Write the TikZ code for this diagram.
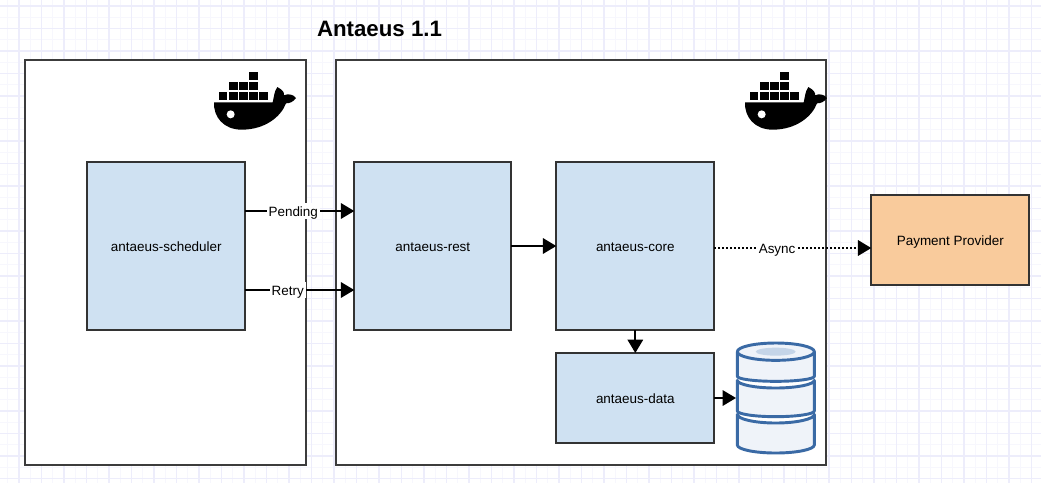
\documentclass[tikz,border=0pt]{standalone}
\usepackage{fontspec}
\setmainfont{Liberation Sans}
\usetikzlibrary{arrows.meta}
\definecolor{boxblue}{HTML}{CFE1F2}
\definecolor{boxorange}{HTML}{F9CB9C}
\definecolor{edgegrey}{HTML}{333333}
\definecolor{contgrey}{HTML}{3C3C3C}
\definecolor{gridmajor}{HTML}{EDEDFB}
\definecolor{gridminor}{HTML}{F7F7FD}
\definecolor{dbline}{HTML}{3A6AA5}
\definecolor{dbfill}{HTML}{EFF3F9}
\definecolor{dbinner}{HTML}{C5D5E8}
\tikzset{
  x=0.75pt,y=-0.75pt,
  container/.style={draw=contgrey,line width=1.7pt,fill=white,inner sep=0pt,outer sep=0pt},
  service/.style={draw=edgegrey,line width=1.3pt,fill=boxblue,inner sep=0pt,outer sep=0pt,text height=8.5pt,text depth=0pt,font=\fontsize{10.1pt}{12pt}\selectfont},
  external/.style={service,fill=boxorange},
  flow/.style={-{Triangle[length=10pt,width=11.5pt]},line width=1.5pt,black},
  asyncflow/.style={flow,line width=1.7pt,dash pattern=on 1.5pt off 1.5pt},
  flowlabel/.style={fill=white,inner sep=1.5pt,text height=8.5pt,text depth=1pt,font=\fontsize{10.1pt}{12pt}\selectfont,text=black},
  dbpart/.style={draw=dbline,line width=2.2pt,fill=dbfill,line join=round},
  dockerlogo/.pic={
    \fill[black] (148,35) rectangle (174,61);
    \foreach \a in {87,117,148} {\fill[black] (\a,65) rectangle +(26,26);}
    \foreach \a in {56,87,117,148,178} {\fill[black] (\a,95) rectangle +(26,26);}
    \fill[black] (42,127) -- (218,127) .. controls (222,112) and (222,95) .. (232,81)
      .. controls (248,90) and (254,98) .. (252,106)
      .. controls (264,100) and (280,103) .. (288,114)
      .. controls (280,126) and (268,130) .. (258,130)
      .. controls (243,170) and (195,209) .. (125,209)
      .. controls (70,209) and (40,170) .. (42,127) -- cycle;
    \fill[white] (92,163) circle (12);
  }
}
\begin{document}
\begin{tikzpicture}
\useasboundingbox (0,0) rectangle (1041,483);
\fill[white] (0,0) rectangle (1041,483);
\foreach \i in {0,...,93} {\draw[gridminor,line width=0.6pt] ({7.75+11.25*\i},0) -- ++(0,483);}
\foreach \i in {0,...,43} {\draw[gridminor,line width=0.6pt] (0,{6+11.25*\i}) -- ++(1041,0);}
\foreach \i in {0,...,46} {\draw[gridmajor,line width=0.8pt] ({19+22.5*\i},0) -- ++(0,483);}
\foreach \i in {0,...,21} {\draw[gridmajor,line width=0.8pt] (0,{6+22.5*\i}) -- ++(1041,0);}

\node[font=\bfseries\fontsize{16.7pt}{20pt}\selectfont,inner sep=0pt] (title) at (379.5,29) {Antaeus 1.1};

\node[container,minimum width=210.75pt,minimum height=303.75pt] (left) at (165.5,262.5) {};
\node[container,minimum width=367.5pt,minimum height=303.75pt] (right) at (581,262.5) {};

\pic at (200,60) [scale=1/3] {dockerlogo};
\pic at (731,60) [scale=1/3] {dockerlogo};

\node[service,minimum width=118.5pt,minimum height=126pt] (sched) at (166.3,246) {antaeus-scheduler};
\node[service,minimum width=117.75pt,minimum height=126pt] (rest) at (432.8,246) {antaeus-rest};
\node[service,minimum width=118.5pt,minimum height=126pt] (core) at (635.3,246) {antaeus-core};
\node[service,minimum width=118.5pt,minimum height=67.5pt] (data) at (635.3,398) {antaeus-data};
\node[external,minimum width=118.5pt,minimum height=67.5pt] (pay) at (950.3,240) {Payment Provider};

\coordinate (pendy) at (300,211);
\coordinate (retryy) at (300,290);
\coordinate (asyncy) at (800,248);
\coordinate (dbleft) at (736,398);

\draw[flow] (sched.east |- pendy) -- node[flowlabel,pos=0.44] {Pending} (rest.west |- pendy);
\draw[flow] (sched.east |- retryy) -- node[flowlabel,pos=0.39] {Retry} (rest.west |- retryy);
\draw[flow] (rest.east) -- (core.west);
\draw[flow] (core.south) -- (data.north);
\draw[flow] (data.east) -- (dbleft);
\draw[asyncflow] (core.east |- asyncy) -- node[flowlabel,pos=0.4] {Async} (pay.west |- asyncy);

% database icon
\begin{scope}[shift={(720,335)},scale=1/3]
\path[dbpart] (52,238) -- (52,330) .. controls (52,343) and (103,354) .. (167,354) .. controls (231,354) and (283,343) .. (283,330) -- (283,238) .. controls (283,252) and (231,264) .. (167,264) .. controls (103,264) and (52,252) .. (52,238) -- cycle;
\path[dbpart] (52,136) -- (52,228) .. controls (52,237) and (103,245) .. (167,245) .. controls (231,245) and (283,237) .. (283,228) -- (283,136) .. controls (283,148) and (231,159) .. (167,159) .. controls (103,159) and (52,148) .. (52,136) -- cycle;
\path[dbpart] (52,50) -- (52,124) .. controls (52,132) and (103,139) .. (167,139) .. controls (231,139) and (283,132) .. (283,124) -- (283,50) -- cycle;
\path[dbpart] (167.5,50) ellipse (115.5 and 26);
\fill[dbinner] (167,50) ellipse (60 and 12);
\end{scope}
\end{tikzpicture}
\end{document}
